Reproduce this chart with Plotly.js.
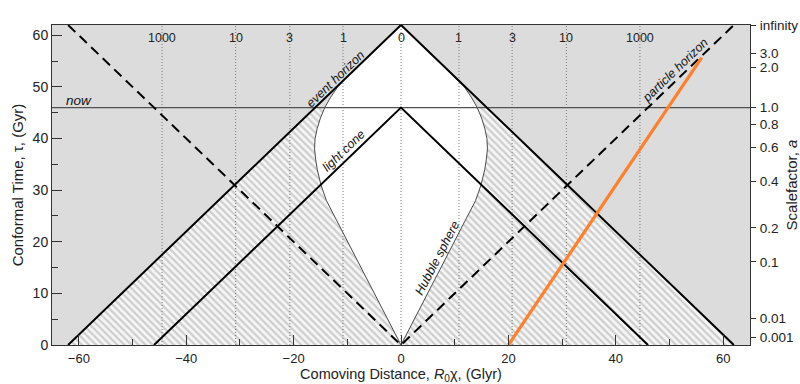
<!DOCTYPE html>
<html>
<head>
<meta charset="utf-8">
<script src="https://cdn.plot.ly/plotly-3.0.1.min.js"></script>
<style>html,body{margin:0;padding:0;background:#fff;}#chart{width:800px;height:384px;}</style>
</head>
<body>
<div id="chart"></div>
<script>
// ---- data ----
const tauNow = 46;
const eventHorizonX   = [-62, 0, 62];
const eventHorizonTau = [0, 62, 0];
const lightConeX   = [-46, 0, 46];
const lightConeTau = [0, 46, 0];
const particleHorizonX   = [-62, 0, 62];
const particleHorizonTau = [62, 0, 62];
// Hubble sphere (positive side; mirrored for negative side)
const hubbleTau = [0, 4, 8, 12, 16, 20, 24, 28, 31, 34, 36, 38, 40, 42, 44, 46, 48, 50, 52, 54, 56, 58, 60, 62];
const hubbleX   = [0, 2.0, 4.0, 6.0, 8.0, 9.9, 11.9, 13.9, 14.9, 15.6, 15.9, 16.1, 16.0, 15.6, 15.0, 14.2, 13.1, 11.8, 10.0, 8.0, 6.0, 4.0, 2.0, 0];
// orange worldline
const galaxyX   = [20, 56];
const galaxyTau = [0, 55.7];
// top axis: redshift
const redshiftPos    = [-44.5, -30.8, -20.7, -10.8, 0, 10.8, 20.7, 30.8, 44.5];
const redshiftLabels = ['1000', '10', '3', '1', '0', '1', '3', '10', '1000'];
// right axis: scalefactor
const scaleTau    = [62, 56.46, 53.75, 46.0, 42.72, 38.32, 31.74, 22.70, 16.12, 5.17, 1.49];
const scaleLabels = ['infinity', '3.0', '2.0', '1.0', '0.8', '0.6', '0.4', '0.2', '0.1', '0.01', '0.001'];
const xRange = [-65, 65];
const yRange = [0, 62];

// ---- derived geometry ----
const ehAtNow = eventHorizonX[2] - tauNow * (eventHorizonX[2] / eventHorizonTau[1]); // 16
const hubbleBelow = hubbleTau.map((t, i) => ({t, x: hubbleX[i]})).filter(p => p.t <= tauNow);

// hatched region: inside event horizon, below now, outside Hubble sphere
const hatchX = [eventHorizonX[0], -ehAtNow];
const hatchY = [0, tauNow];
hubbleBelow.slice().reverse().forEach(p => { hatchX.push(-p.x); hatchY.push(p.t); });
hubbleBelow.forEach(p => { hatchX.push(p.x); hatchY.push(p.t); });
hatchX.push(ehAtNow, eventHorizonX[2], eventHorizonX[0]);
hatchY.push(tauNow, 0, 0);

// Hubble sphere closed curve
const hsX = [], hsY = [];
hubbleTau.forEach((t, i) => { hsX.push(-hubbleX[i]); hsY.push(t); });
for (let i = hubbleTau.length - 1; i >= 0; i--) { hsX.push(hubbleX[i]); hsY.push(hubbleTau[i]); }

// dotted redshift lines
const dotX = [], dotY = [];
redshiftPos.forEach(p => { dotX.push(p, p, null); dotY.push(yRange[0], yRange[1], null); });

const traces = [
  {x: hatchX, y: hatchY, mode: 'lines', fill: 'toself', line: {width: 0},
   fillcolor: 'rgba(0,0,0,0)',
   fillpattern: {shape: '\\', size: 5, solidity: 0.45, fgcolor: '#cecece', bgcolor: '#f6f6f6'},
   hoverinfo: 'skip', showlegend: false},
  {x: hsX, y: hsY, mode: 'lines', fill: 'toself', fillcolor: '#ffffff', line: {width: 0},
   hoverinfo: 'skip', showlegend: false},
  {x: dotX, y: dotY, mode: 'lines',
   line: {color: '#7a7a7a', width: 1, dash: '1px,2px'}, hoverinfo: 'skip', showlegend: false},
  {x: xRange, y: [tauNow, tauNow], mode: 'lines', line: {color: '#505050', width: 1.4}, showlegend: false},
  {x: hsX, y: hsY, mode: 'lines', line: {color: '#4a4a4a', width: 1}, showlegend: false},
  {x: eventHorizonX, y: eventHorizonTau, mode: 'lines', line: {color: '#000000', width: 2}, showlegend: false},
  {x: lightConeX, y: lightConeTau, mode: 'lines', line: {color: '#000000', width: 2}, showlegend: false},
  {x: particleHorizonX, y: particleHorizonTau, mode: 'lines', line: {color: '#000000', width: 2, dash: '10px,6px'}, showlegend: false},
  {x: galaxyX, y: galaxyTau, xaxis: 'x', yaxis: 'y2', mode: 'lines', line: {color: '#ff7f2a', width: 3.2}, showlegend: false}
];

const font = {family: 'Liberation Sans, Arial, sans-serif', color: '#222222'};
const annFont = {family: 'Liberation Sans, Arial, sans-serif', color: '#111111', size: 12.5};

const annotations = [
  {x: -59.9, y: 47.4, text: '<i>now</i>', showarrow: false, font: {family: annFont.family, color: '#111', size: 13.5}},
  {x: -12.2, y: 51.5, text: '<i>event horizon</i>', showarrow: false, textangle: -44, font: annFont},
  {x: -10.7, y: 37.6, text: '<i>light cone</i>', showarrow: false, textangle: -44, font: annFont},
  {x: 6.8, y: 16.8, text: '<i>Hubble sphere</i>', showarrow: false, textangle: -62.5, font: annFont},
  {x: 51.1, y: 53.3, text: '<i>particle horizon</i>', showarrow: false, textangle: -44, font: annFont}
];
// top redshift labels, placed just inside the top edge
redshiftPos.forEach((p, i) => annotations.push({
  x: p, xref: 'x', y: 59.5, yref: 'y', text: redshiftLabels[i], showarrow: false,
  font: {family: font.family, color: '#222', size: 12.5}
}));

const layout = {
  width: 800, height: 384,
  margin: {l: 52, r: 50, t: 25, b: 39},
  paper_bgcolor: '#ffffff',
  plot_bgcolor: '#dcdcdc',
  font: font,
  showlegend: false,
  xaxis: {
    range: xRange, tick0: 0, dtick: 20, ticks: 'inside', ticklen: 10, tickcolor: '#333',
    minor: {dtick: 10, ticks: 'inside', ticklen: 6, tickcolor: '#333', showgrid: false},
    showline: true, mirror: true, linecolor: '#333', linewidth: 1,
    showgrid: false, zeroline: false, tickfont: {size: 13}, ticklabelstandoff: 1,
    title: {text: 'Comoving Distance, <i>R</i><sub>0</sub>χ, (Glyr)', font: {size: 14.5}, standoff: 0}
  },
  yaxis: {
    range: yRange, tick0: 0, dtick: 10, ticks: 'inside', ticklen: 10, tickcolor: '#333',
    minor: {dtick: 5, ticks: 'inside', ticklen: 6, tickcolor: '#333', showgrid: false},
    showline: true, mirror: true, linecolor: '#333', linewidth: 1,
    showgrid: false, zeroline: false, tickfont: {size: 14},
    title: {text: 'Conformal Time, τ, (Gyr)', font: {size: 15}, standoff: 5}
  },
  yaxis2: {
    range: yRange, overlaying: 'y', side: 'right', tickvals: scaleTau, ticktext: scaleLabels,
    ticks: 'outside', ticklen: 5, tickcolor: '#333', showline: false, showgrid: false, zeroline: false,
    tickfont: {size: 13.5}, ticklabelstandoff: 1,
    title: {text: 'Scalefactor, <i>a</i>', font: {size: 15}, standoff: 4}
  },
  annotations: annotations
};

Plotly.newPlot('chart', traces, layout, {staticPlot: true, displayModeBar: false});
</script>
</body>
</html>
